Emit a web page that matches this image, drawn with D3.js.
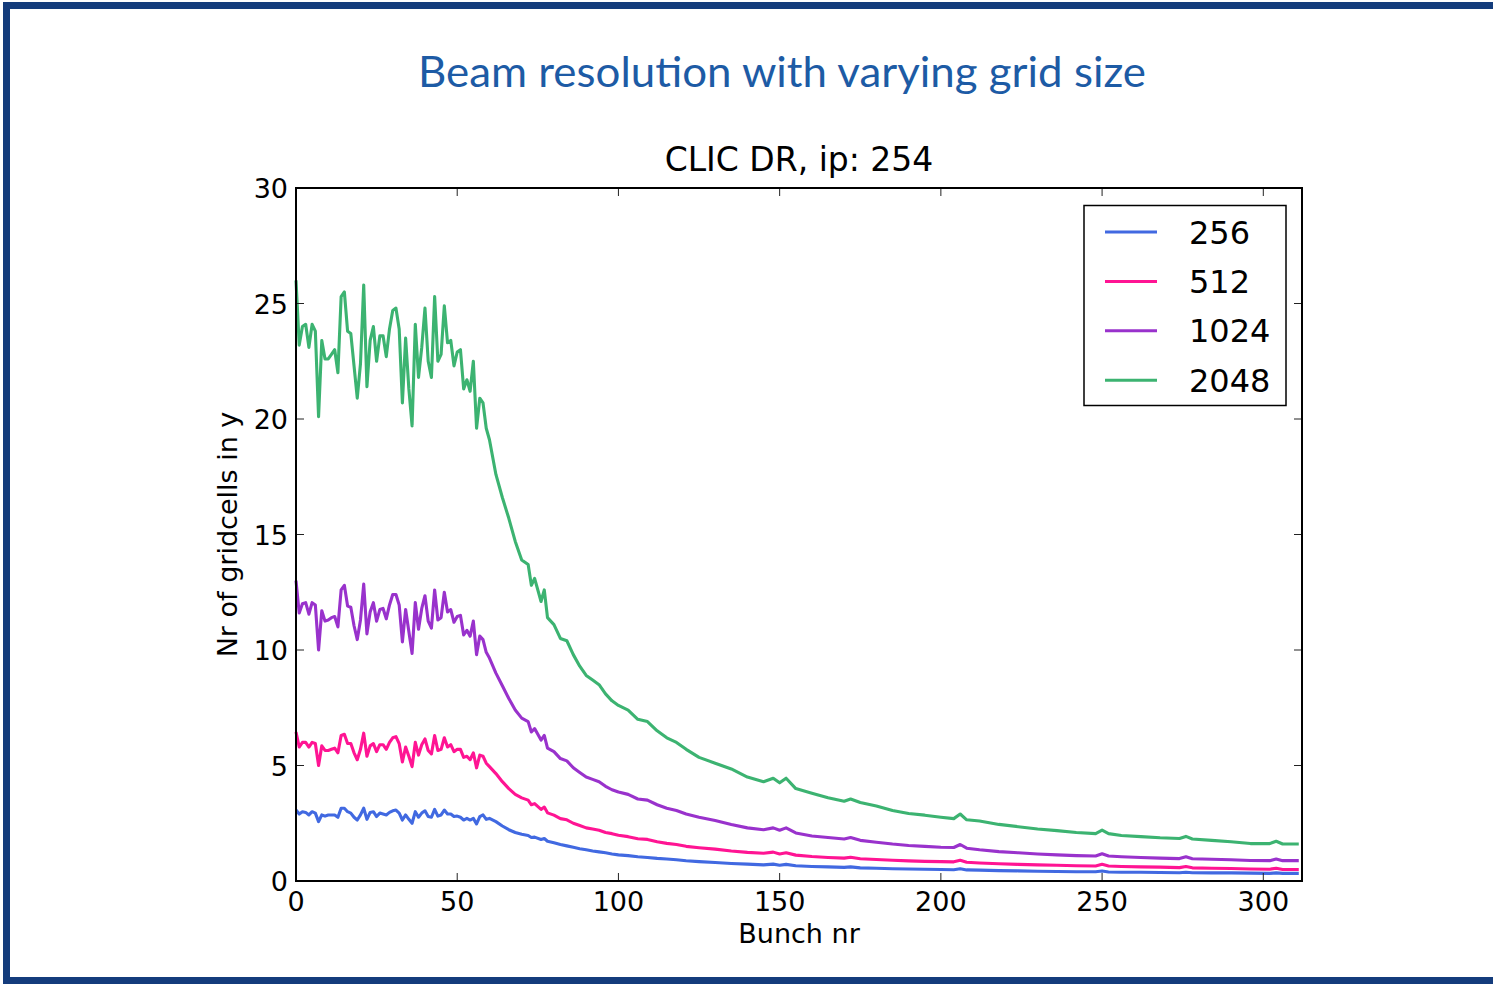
<!DOCTYPE html>
<html lang="en">
<head>
    <meta charset="UTF-8">
    <title>Beam resolution with varying grid size</title>
    <script src="https://d3js.org/d3.v7.min.js"></script>
    <style>
        body {
            margin: 0;
            padding: 0;
            background-color: #ffffff;
            overflow: hidden;
        }

        .slide-title {
            font-family: Lato, "Open Sans", sans-serif;
            font-weight: 400;
            fill: #1d5ba5;
        }

        .chart text {
            font-family: "DejaVu Sans", sans-serif;
            fill: #000;
        }

        .tick-mark {
            stroke: #222;
            stroke-width: 1;
        }

        .series {
            fill: none;
            stroke-width: 3.1px;
            stroke-linejoin: round;
        }
    </style>
</head>
<body>
    <svg width="1493" height="984"></svg>

    <script>
        // bunch numbers the curves were read at
        const bunch = [
            0, 1, 2, 3, 4, 5, 6, 7, 8, 9,
            10, 11, 12, 13, 14, 15, 16, 17, 18, 19,
            20, 21, 22, 23, 24, 25, 26, 27, 28, 29,
            30, 31, 32, 33, 34, 35, 36, 37, 38, 39,
            40, 41, 42, 43, 44, 45, 46, 47, 48, 49,
            50, 51, 52, 53, 54, 55, 56, 57, 58, 59,
            60,
            62, 64, 66, 68, 70, 72, 73, 74, 76, 77,
            78, 80, 82, 84, 86, 88, 90, 92, 94, 96,
            98, 100, 103, 106, 109, 112, 115, 118, 121, 125,
            130, 135, 140, 145, 148, 150, 152, 155, 160, 165,
            170, 172, 175, 180, 185, 190, 195, 200, 204, 206,
            208, 212, 218, 224, 230, 236, 242, 248, 250, 252,
            256, 262, 268, 274, 276, 278, 284, 290, 296, 302,
            304, 306, 311
        ];

        const grid256 = [
            3.07, 2.9, 3.0, 2.97, 2.86, 3.0, 2.94, 2.57, 2.86, 2.81,
            2.86, 2.86, 2.86, 2.76, 3.15, 3.15, 3.0, 2.94, 2.76, 2.64,
            2.86, 3.15, 2.67, 2.97, 3.0, 2.79, 2.94, 2.9, 2.86, 2.97,
            3.04, 3.07, 2.94, 2.64, 2.86, 2.67, 2.5, 3.0, 2.76, 2.94,
            3.04, 2.79, 2.76, 3.1, 2.81, 2.86, 3.07, 2.9, 2.9, 2.79,
            2.81, 2.76, 2.64, 2.71, 2.64, 2.71, 2.47, 2.79, 2.86, 2.67,
            2.71,
            2.57, 2.38, 2.22, 2.1, 2.02, 1.97, 1.88, 1.9, 1.8, 1.84,
            1.72, 1.66, 1.58, 1.52, 1.46, 1.4, 1.35, 1.3, 1.26, 1.22,
            1.17, 1.13, 1.1, 1.05, 1.02, 0.98, 0.95, 0.92, 0.88, 0.84,
            0.8, 0.76, 0.73, 0.7, 0.73, 0.68, 0.72, 0.66, 0.63, 0.61,
            0.59, 0.61, 0.57, 0.55, 0.53, 0.52, 0.51, 0.5, 0.49, 0.53,
            0.48, 0.47, 0.45, 0.44, 0.42, 0.41, 0.4, 0.4, 0.43, 0.39,
            0.38, 0.38, 0.37, 0.36, 0.38, 0.36, 0.35, 0.35, 0.34, 0.33,
            0.35, 0.33, 0.33
        ];

        const grid512 = [
            6.45, 5.8, 6.0, 6.0, 5.8, 6.0, 5.95, 5.0, 5.85, 5.65,
            5.65, 5.7, 5.75, 5.55, 6.3, 6.35, 5.95, 5.95, 5.55, 5.25,
            5.7, 6.4, 5.4, 5.85, 5.95, 5.6, 5.9, 5.9, 5.7, 6.0,
            6.2, 6.25, 5.95, 5.15, 5.8, 5.4, 4.95, 6.0, 5.45, 5.9,
            6.15, 5.65, 5.5, 6.3, 5.65, 5.7, 6.2, 5.8, 5.9, 5.6,
            5.7, 5.7, 5.35, 5.4, 5.25, 5.55, 4.9, 5.45, 5.4, 5.1,
            4.95,
            4.65, 4.3, 4.0, 3.75, 3.6, 3.5, 3.3, 3.35, 3.1, 3.2,
            2.95, 2.85, 2.7, 2.65, 2.5, 2.4, 2.3, 2.25, 2.2, 2.1,
            2.05, 1.98, 1.92, 1.83, 1.8, 1.7, 1.63, 1.58, 1.5, 1.44,
            1.38, 1.3, 1.24, 1.2, 1.25, 1.17, 1.22, 1.12, 1.06, 1.02,
            0.99, 1.03, 0.96, 0.93, 0.9, 0.87, 0.85, 0.84, 0.83, 0.9,
            0.81, 0.78, 0.75, 0.72, 0.7, 0.68, 0.66, 0.65, 0.72, 0.65,
            0.63, 0.61, 0.6, 0.58, 0.63, 0.57, 0.55, 0.54, 0.52, 0.51,
            0.55, 0.5, 0.5
        ];

        const grid1024 = [
            13.0, 11.6, 12.0, 12.05, 11.55, 12.05, 11.95, 10.0, 11.7, 11.25,
            11.3, 11.4, 11.45, 11.0, 12.6, 12.8, 11.9, 11.85, 11.05, 10.45,
            11.3, 12.85, 10.7, 11.65, 12.05, 11.25, 11.75, 11.8, 11.35, 11.95,
            12.4, 12.4, 11.95, 10.35, 11.75, 10.8, 9.85, 12.05, 10.9, 11.8,
            12.35, 11.25, 10.95, 12.6, 11.3, 11.4, 12.5, 11.65, 11.75, 11.2,
            11.45, 11.5, 10.65, 10.85, 10.6, 11.25, 9.8, 10.6, 10.45, 9.9,
            9.65,
            9.0, 8.45, 7.9, 7.4, 7.05, 6.9, 6.45, 6.6, 6.1, 6.3,
            5.75, 5.6, 5.3, 5.2, 4.9, 4.7, 4.5, 4.4, 4.3, 4.1,
            3.95, 3.85, 3.75, 3.55, 3.5, 3.3, 3.15, 3.05, 2.9, 2.76,
            2.62, 2.45, 2.3, 2.22, 2.3, 2.2, 2.3, 2.08, 1.95, 1.88,
            1.82, 1.88, 1.76, 1.68, 1.6, 1.54, 1.5, 1.46, 1.45, 1.58,
            1.42, 1.35, 1.27, 1.22, 1.17, 1.13, 1.1, 1.08, 1.18, 1.08,
            1.05, 1.02, 0.99, 0.97, 1.05, 0.96, 0.94, 0.92, 0.89, 0.88,
            0.95, 0.88, 0.88
        ];

        const grid2048 = [
            26.0, 23.2, 24.0, 24.1, 23.1, 24.1, 23.8, 20.1, 23.4, 22.6,
            22.6, 22.8, 23.0, 22.0, 25.3, 25.5, 23.8, 23.7, 22.3, 20.9,
            22.4, 25.8, 21.4, 23.4, 24.0, 22.5, 23.6, 23.6, 22.7, 23.9,
            24.7, 24.8, 23.9, 20.7, 23.5, 21.3, 19.7, 24.1, 21.8, 23.1,
            24.8, 22.5, 21.8, 25.3, 22.5, 22.8, 24.9, 23.3, 23.4, 22.3,
            22.9, 23.0, 21.3, 21.7, 21.2, 22.5, 19.6, 20.9, 20.7, 19.6,
            19.1,
            17.6, 16.6, 15.7, 14.7, 13.9, 13.7, 12.8, 13.1, 12.1, 12.6,
            11.4, 11.1, 10.5, 10.4, 9.8, 9.3, 8.9, 8.7, 8.5, 8.1,
            7.8, 7.6, 7.4, 7.0, 6.9, 6.5, 6.2, 6.0, 5.7, 5.35,
            5.1, 4.85, 4.5, 4.3, 4.45, 4.25, 4.45, 4.0, 3.8, 3.6,
            3.45, 3.55, 3.4, 3.25, 3.05, 2.92, 2.85, 2.76, 2.7, 2.9,
            2.65, 2.6, 2.45, 2.35, 2.25, 2.18, 2.1, 2.05, 2.2, 2.05,
            1.97, 1.92, 1.87, 1.84, 1.93, 1.82, 1.76, 1.7, 1.62, 1.62,
            1.72, 1.6, 1.6
        ];

        const seriesNames = ["256", "512", "1024", "2048"];
        const seriesColors = ["#4169e1", "#ff1493", "#9932cc", "#3cb371"];
        const seriesValues = [grid256, grid512, grid1024, grid2048];

        const xTicks = [0, 50, 100, 150, 200, 250, 300];
        const yTicks = [0, 5, 10, 15, 20, 25, 30];

        const svg = d3.select("svg");

        // slide frame
        svg.append("rect")
            .attr("x", 6.5)
            .attr("y", 5.5)
            .attr("width", 1500)
            .attr("height", 975)
            .attr("fill", "none")
            .attr("stroke", "#143c7c")
            .attr("stroke-width", 7);

        svg.append("text")
            .attr("class", "slide-title")
            .attr("x", 782)
            .attr("y", 87)
            .attr("text-anchor", "middle")
            .attr("font-size", 42)
            .attr("textLength", 728)
            .attr("lengthAdjust", "spacingAndGlyphs")
            .text("Beam resolution with varying grid size");

        const plotLeft = 296, plotRight = 1302, plotTop = 188, plotBottom = 881;

        const x = d3.scaleLinear().domain([0, 312]).range([plotLeft, plotRight]);
        const y = d3.scaleLinear().domain([0, 30]).range([plotBottom, plotTop]);

        const g = svg.append("g").attr("class", "chart");

        g.append("text")
            .attr("x", (plotLeft + plotRight) / 2)
            .attr("y", 171)
            .attr("text-anchor", "middle")
            .attr("font-size", 33)
            .text("CLIC DR, ip: 254");

        // lines
        const line = d3.line()
            .x((d, i) => x(bunch[i]))
            .y(d => y(d));

        seriesValues.forEach((vals, k) => {
            g.append("path")
                .datum(vals)
                .attr("class", "series")
                .attr("stroke", seriesColors[k])
                .attr("d", line);
        });

        // inward ticks on all four sides
        const tickLen = 8;
        xTicks.forEach(t => {
            g.append("line").attr("class", "tick-mark")
                .attr("x1", x(t)).attr("x2", x(t))
                .attr("y1", plotBottom).attr("y2", plotBottom - tickLen);
            g.append("line").attr("class", "tick-mark")
                .attr("x1", x(t)).attr("x2", x(t))
                .attr("y1", plotTop).attr("y2", plotTop + tickLen);
            g.append("text")
                .attr("x", x(t))
                .attr("y", 911)
                .attr("text-anchor", "middle")
                .attr("font-size", 27)
                .text(t);
        });

        yTicks.forEach(t => {
            g.append("line").attr("class", "tick-mark")
                .attr("x1", plotLeft).attr("x2", plotLeft + tickLen)
                .attr("y1", y(t)).attr("y2", y(t));
            g.append("line").attr("class", "tick-mark")
                .attr("x1", plotRight).attr("x2", plotRight - tickLen)
                .attr("y1", y(t)).attr("y2", y(t));
            g.append("text")
                .attr("x", 288)
                .attr("y", y(t) + 10)
                .attr("text-anchor", "end")
                .attr("font-size", 27)
                .text(t);
        });

        g.append("rect")
            .attr("x", plotLeft)
            .attr("y", plotTop)
            .attr("width", plotRight - plotLeft)
            .attr("height", plotBottom - plotTop)
            .attr("fill", "none")
            .attr("stroke", "#000")
            .attr("stroke-width", 2);

        g.append("text")
            .attr("x", (plotLeft + plotRight) / 2)
            .attr("y", 943)
            .attr("text-anchor", "middle")
            .attr("font-size", 27)
            .text("Bunch nr");

        g.append("text")
            .attr("transform", `translate(237, ${(plotTop + plotBottom) / 2}) rotate(-90)`)
            .attr("text-anchor", "middle")
            .attr("font-size", 27)
            .text("Nr of gridcells in y");

        // legend
        const legend = g.append("g");
        legend.append("rect")
            .attr("x", 1084)
            .attr("y", 205.5)
            .attr("width", 202)
            .attr("height", 200)
            .attr("fill", "#fff")
            .attr("stroke", "#000")
            .attr("stroke-width", 1.5);

        seriesNames.forEach((name, k) => {
            const ry = 232 + k * 49.4;
            legend.append("line")
                .attr("x1", 1105).attr("x2", 1157)
                .attr("y1", ry).attr("y2", ry)
                .attr("stroke", seriesColors[k])
                .attr("stroke-width", 3);
            legend.append("text")
                .attr("x", 1189)
                .attr("y", ry + 11.5)
                .attr("font-size", 32)
                .text(name);
        });
    </script>
</body>
</html>
